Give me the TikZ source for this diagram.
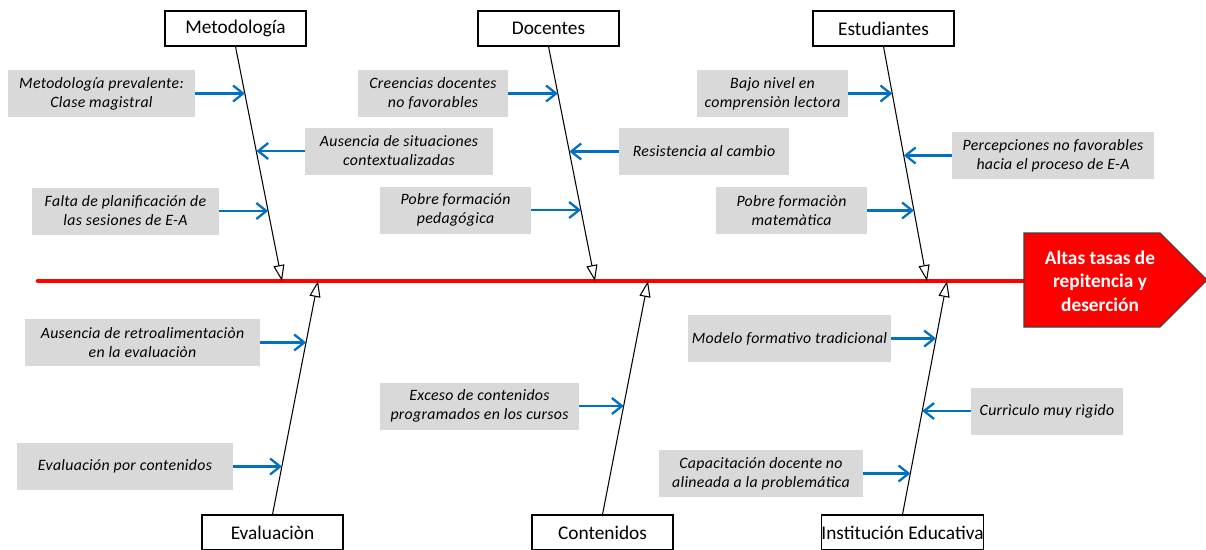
\documentclass[tikz,border=0pt]{standalone}
\usepackage{fontspec}
\setmainfont{Carlito}
\usepackage{tikz}
\usepackage{xcolor}
\usetikzlibrary{positioning,arrows.meta,calc}

\definecolor{azul}{HTML}{0070C0}
\definecolor{causagris}{HTML}{D9D9D9}

\begin{document}
\begin{tikzpicture}[x=0.02cm, y=-0.02cm,
    categoria/.style={draw, fill=white, line width=0.6pt, minimum width=2.82cm, minimum height=0.7cm, inner sep=0pt, font=\fontsize{11}{13}\selectfont},
    causa/.style={fill=causagris, minimum height=0.94cm, inner sep=0pt, align=center, font=\fontsize{9}{10.8}\selectfont\itshape\addfontfeature{LetterSpace=2}},
    hueso/.style={-{Triangle[length=3.2mm, width=2.2mm, fill=white]}, line width=0.6pt},
    flecha/.style={-{Straight Barb[length=2mm, width=3.2mm]}, draw=azul, line width=1.3pt},
    espina/.style={draw=red, line width=2.6pt, line cap=round},
    efecto/.style={align=center, text=white, font=\fontsize{11}{13.3}\selectfont\bfseries}]

    \useasboundingbox (0,0) rectangle (1206,549);

    % espina y efecto
    \coordinate (inicio) at (38,281);
    \coordinate (fin) at (1024,281);
    \draw[espina] (inicio) -- (fin);
    \draw[fill=red, draw=black!75, line width=0.6pt] (1024,233) -- (1160,233) -- (1207,280) -- (1160,327) -- (1024,327) -- cycle;
    \node[efecto] (efecto) at (1100,281) {Altas tasas de\\repitencia y\\deserción};

    % categorias
    \node[categoria] (metodo) at (235.5,28.5) {Metodología};
    \node[categoria] (docen) at (548.5,28.5) {Docentes};
    \node[categoria] (estud) at (883.5,28.5) {Estudiantes};
    \node[categoria] (evalu) at (272.5,532.5) {Evaluaciòn};
    \node[categoria] (conte) at (602.5,532.5) {Contenidos};
    \node[categoria] (insti) at (902.5,532.5) {Institución Educativa};

    \coordinate (metT) at (282,281);
    \coordinate (docT) at (595,281);
    \coordinate (estT) at (927,281);
    \coordinate (evaT) at (318,281);
    \coordinate (conT) at (648,281);
    \coordinate (insT) at (947,281);

    \draw[hueso] (metodo.south) -- (metT);
    \draw[hueso] (docen.south) -- (docT);
    \draw[hueso] (estud.south) -- (estT);
    \draw[hueso] (evalu.north) -- (evaT);
    \draw[hueso] (conte.north) -- (conT);
    \draw[hueso] (insti.north) -- (insT);

    % causas
    \node[causa, minimum width=3.74cm] (m1) at (101.5,93.5) {Metodología prevalente:\\Clase magistral};
    \node[causa, minimum width=3.76cm] (m2) at (399,151) {Ausencia de situaciones\\contextualizadas};
    \node[causa, minimum width=3.74cm] (m3) at (125.5,211) {Falta de planificación de\\las sesiones de E-A};
    \node[causa, minimum width=3.0cm] (d1) at (433,93.5) {Creencias docentes\\no favorables};
    \node[causa, minimum width=3.4cm] (d2) at (704,151.5) {Resistencia al cambio};
    \node[causa, minimum width=3.02cm] (d3) at (455.5,210) {Pobre formación\\pedagógica};
    \node[causa, minimum width=3.02cm] (e1) at (772.5,93.5) {Bajo nivel en\\comprensiòn lectora};
    \node[causa, minimum width=4.04cm] (e2) at (1053,155.5) {Percepciones no favorables\\hacia el proceso de E-A};
    \node[causa, minimum width=3.02cm] (e3) at (791.5,210.5) {Pobre formaciòn\\matemàtica};
    \node[causa, minimum width=4.7cm] (v1) at (142.5,342.5) {Ausencia de retroalimentaciòn\\en la evaluaciòn};
    \node[causa, minimum width=4.32cm] (v2) at (125,466.5) {Evaluación por contenidos};
    \node[causa, minimum width=3.98cm] (c1) at (479.5,406) {Exceso de contenidos\\programados en los cursos};
    \node[causa, minimum width=4.06cm] (i1) at (789.5,338.5) {Modelo formativo tradicional};
    \node[causa, minimum width=3.04cm] (i2) at (1047,411) {Currìculo muy rìgido};
    \node[causa, minimum width=4.08cm] (i3) at (761,473.5) {Capacitación docente no\\alineada a la problemática};

    \coordinate (bm1) at ($(metodo.south)!.202!(metT)$);
    \coordinate (bm2) at ($(metodo.south)!.449!(metT)$);
    \coordinate (bm3) at ($(metodo.south)!.702!(metT)$);
    \coordinate (bd1) at ($(docen.south)!.202!(docT)$);
    \coordinate (bd2) at ($(docen.south)!.449!(docT)$);
    \coordinate (bd3) at ($(docen.south)!.698!(docT)$);
    \coordinate (be1) at ($(estud.south)!.202!(estT)$);
    \coordinate (be2) at ($(estud.south)!.466!(estT)$);
    \coordinate (be3) at ($(estud.south)!.700!(estT)$);
    \coordinate (bv1) at ($(evalu.north)!.737!(evaT)$);
    \coordinate (bv2) at ($(evalu.north)!.207!(evaT)$);
    \coordinate (bc1) at ($(conte.north)!.466!(conT)$);
    \coordinate (bi1) at ($(insti.north)!.754!(insT)$);
    \coordinate (bi2) at ($(insti.north)!.444!(insT)$);
    \coordinate (bi3) at ($(insti.north)!.177!(insT)$);

    \draw[flecha] (m1.east) -- (m1.east -| bm1);
    \draw[flecha] (m2.west) -- (m2.west -| bm2);
    \draw[flecha] (m3.east) -- (m3.east -| bm3);
    \draw[flecha] (d1.east) -- (d1.east -| bd1);
    \draw[flecha] (d2.west) -- (d2.west -| bd2);
    \draw[flecha] (d3.east) -- (d3.east -| bd3);
    \draw[flecha] (e1.east) -- (e1.east -| be1);
    \draw[flecha] (e2.west) -- (e2.west -| be2);
    \draw[flecha] (e3.east) -- (e3.east -| be3);
    \draw[flecha] (v1.east) -- (v1.east -| bv1);
    \draw[flecha] (v2.east) -- (v2.east -| bv2);
    \draw[flecha] (c1.east) -- (c1.east -| bc1);
    \draw[flecha] (i1.east) -- (i1.east -| bi1);
    \draw[flecha] (i2.west) -- (i2.west -| bi2);
    \draw[flecha] (i3.east) -- (i3.east -| bi3);

\end{tikzpicture}
\end{document}
